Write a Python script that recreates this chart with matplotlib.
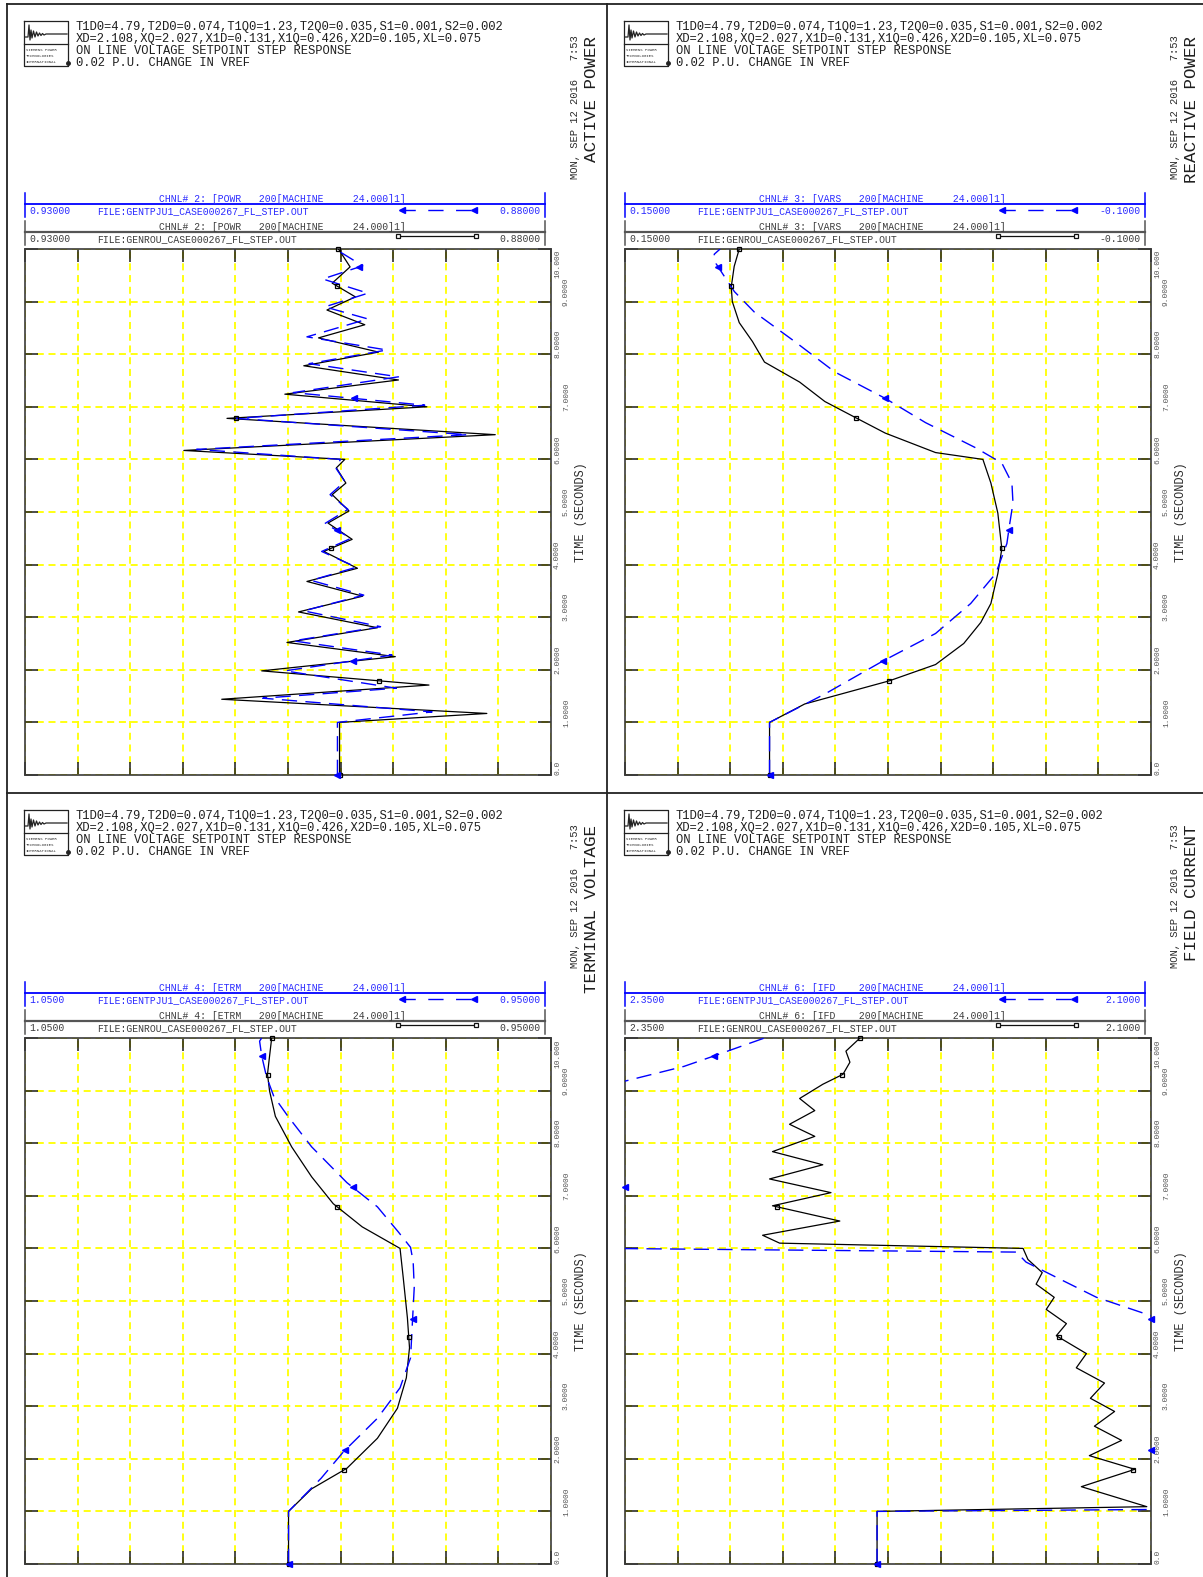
import numpy as np
import matplotlib
matplotlib.use('Agg')
import matplotlib.pyplot as plt
from matplotlib.lines import Line2D
from matplotlib.transforms import blended_transform_factory

W, H = 1203, 1577
MONO = ['Liberation Mono', 'DejaVu Sans Mono']

# ---------------------------------------------------------------- text
header_lines = ['T1D0=4.79,T2D0=0.074,T1Q0=1.23,T2Q0=0.035,S1=0.001,S2=0.002',
                'XD=2.108,XQ=2.027,X1D=0.131,X1Q=0.426,X2D=0.105,XL=0.075',
                'ON LINE VOLTAGE SETPOINT STEP RESPONSE',
                '0.02 P.U. CHANGE IN VREF']
stamp = 'MON, SEP 12 2016   7:53'
titles = ['ACTIVE POWER', 'REACTIVE POWER', 'TERMINAL VOLTAGE', 'FIELD CURRENT']
chnl_labels = ['CHNL# 2: [POWR   200[MACHINE     24.000]1]',
               'CHNL# 3: [VARS   200[MACHINE     24.000]1]',
               'CHNL# 4: [ETRM   200[MACHINE     24.000]1]',
               'CHNL# 6: [IFD    200[MACHINE     24.000]1]']
left_labels = ['0.93000', '0.15000', '1.0500', '2.3500']
right_labels = ['0.88000', '-0.1000', '0.95000', '2.1000']
x_left = [0.93, 0.15, 1.05, 2.35]
x_right = [0.88, -0.10, 0.95, 2.10]
file_blue = 'FILE:GENTPJU1_CASE000267_FL_STEP.OUT'
file_black = 'FILE:GENROU_CASE000267_FL_STEP.OUT'
time_ticks = list(range(11))
time_labels = ['0.0', '1.0000', '2.0000', '3.0000', '4.0000', '5.0000',
               '6.0000', '7.0000', '8.0000', '9.0000', '10.000']
square_times = [0.0, 1.79, 4.31, 6.79, 9.3, 10.0]
arrow_times = [0.0, 2.17, 4.65, 7.16, 9.66]

# ---------------------------------------------------------------- data
# active power
p_t_genrou = [0, 1.0, 1.17, 1.44, 1.71, 1.98, 2.25, 2.52, 2.80, 3.10, 3.40, 3.68, 3.93,
              4.25, 4.48, 4.79, 5.02, 5.33, 5.55, 5.84, 6.0, 6.17, 6.47, 6.78, 7.0,
              7.24, 7.51, 7.78, 8.04, 8.31, 8.56, 8.84, 9.09, 9.35, 9.66, 10.0]
p_v_genrou = [0.9001, 0.9001, 0.8861, 0.9113, 0.8916, 0.9075, 0.8948, 0.9051, 0.8965,
              0.9040, 0.8979, 0.9032, 0.8984, 0.9016, 0.8989, 0.9012, 0.8992, 0.9008,
              0.8995, 0.9004, 0.8996, 0.9149, 0.8853, 0.9108, 0.8918, 0.9053, 0.8945,
              0.9035, 0.8964, 0.9021, 0.8977, 0.9013, 0.8986, 0.9008, 0.8991, 0.9002]
p_t_gentpj = [0, 1.0, 1.2, 1.46, 1.65, 1.98, 2.28, 2.55, 2.82, 3.12, 3.42, 3.70, 3.95,
              4.25, 4.50, 4.78, 5.05, 5.33, 5.58, 5.85, 6.0, 6.19, 6.47, 6.78, 7.03,
              7.27, 7.57, 7.82, 8.08, 8.33, 8.67, 8.90, 9.16, 9.43, 9.68, 10.0]
p_v_gentpj = [0.9003, 0.9003, 0.8913, 0.9074, 0.8947, 0.9053, 0.8951, 0.9045, 0.8962,
              0.9035, 0.8978, 0.9028, 0.8985, 0.9018, 0.8990, 0.9015, 0.8993, 0.9010,
              0.8996, 0.9005, 0.9000, 0.9137, 0.8879, 0.9099, 0.8920, 0.9045, 0.8945,
              0.9030, 0.8956, 0.9032, 0.8974, 0.9015, 0.8974, 0.9017, 0.8979, 0.9005]

# reactive power
q_t_genrou = [0, 1.0, 1.35, 1.79, 2.1, 2.5, 2.9, 3.26, 3.83, 4.3, 4.98, 5.55, 6.0,
              6.13, 6.5, 6.8, 7.1, 7.47, 7.85, 8.24, 8.6, 9.0, 9.28, 9.67, 10.0]
q_v_genrou = [0.0813, 0.0813, 0.0646, 0.0244, 0.0024, -0.0110, -0.0191, -0.0239,
              -0.0272, -0.0291, -0.0272, -0.0239, -0.0201, 0.0024, 0.0263, 0.0407,
              0.0550, 0.0670, 0.0837, 0.0894, 0.0957, 0.0990, 0.0995, 0.0981, 0.0957]
q_t_gentpj = [0, 1.0, 1.54, 2.17, 2.69, 3.26, 3.83, 4.4, 4.79, 5.17, 5.55, 5.93, 6.22,
              6.7, 7.16, 7.66, 8.24, 8.8, 9.19, 9.48, 9.72, 9.9, 10.0]
q_v_gentpj = [0.0813, 0.0813, 0.0550, 0.0273, 0.0024, -0.0143, -0.0262, -0.0315,
              -0.0329, -0.0344, -0.0339, -0.0291, -0.0167, 0.0072, 0.0263, 0.0502,
              0.0693, 0.0885, 0.0980, 0.1028, 0.1067, 0.1076, 0.1048]

# terminal voltage
v_t_genrou = [0, 1.0, 1.43, 1.82, 2.39, 2.96, 3.54, 4.11, 4.68, 5.45, 6.0, 6.41, 6.85,
              7.36, 7.93, 8.51, 8.99, 9.31, 9.66, 10.0]
v_v_genrou = [0.9999, 0.9999, 0.9955, 0.9888, 0.9830, 0.9792, 0.9775, 0.9769, 0.9773,
              0.9781, 0.9787, 0.9859, 0.9914, 0.9955, 0.9993, 1.0024, 1.0035, 1.0039,
              1.0035, 1.0031]
v_t_gentpj = [0, 1.0, 1.63, 2.14, 2.77, 3.35, 3.92, 4.49, 5.26, 5.74, 6.02, 6.31, 6.79,
              7.25, 7.93, 8.51, 8.89, 9.27, 9.66, 9.94, 10.0]
v_v_gentpj = [0.9999, 0.9999, 0.9937, 0.9894, 0.9830, 0.9787, 0.9767, 0.9764, 0.9760,
              0.9762, 0.9767, 0.9790, 0.9830, 0.9888, 0.9955, 1.0000, 1.0027, 1.0041,
              1.0050, 1.0054, 1.0050]

# field current
i_t_genrou = [0, 1.0, 1.09, 1.47, 1.8, 2.06, 2.35, 2.62, 2.9, 3.15, 3.44, 3.73, 4.0,
              4.34, 4.57, 4.84, 5.07, 5.32, 5.54, 5.79, 6.0, 6.1, 6.25, 6.52, 6.81,
              7.06, 7.32, 7.59, 7.84, 8.13, 8.36, 8.62, 8.85, 9.12, 9.31, 9.54, 9.75, 10.0]
i_v_genrou = [2.2302, 2.2302, 2.1020, 2.1331, 2.1077, 2.1293, 2.1140, 2.1269, 2.1173,
              2.1288, 2.1221, 2.1355, 2.1307, 2.1450, 2.1402, 2.1498, 2.1460, 2.1546,
              2.1517, 2.1585, 2.1608, 2.2765, 2.2846, 2.2479, 2.2799, 2.2521, 2.2813,
              2.2560, 2.2799, 2.2598, 2.2718, 2.2598, 2.2670, 2.2560, 2.2464, 2.2431,
              2.2450, 2.2383]
i_t_gentpj = [0, 1.0, 1.05, 2.0, 3.0, 4.0, 4.72, 5.07, 5.45, 5.74, 5.93, 6.05, 7.0,
              8.0, 9.0, 9.18, 9.46, 9.66, 10.0]
i_v_gentpj = [2.2302, 2.2302, 2.05, 2.04, 2.05, 2.07, 2.10, 2.1259, 2.1450, 2.1594,
              2.1640, 2.50, 2.55, 2.50, 2.40, 2.35, 2.3220, 2.3076, 2.2837]

series = [((p_t_gentpj, p_v_gentpj), (p_t_genrou, p_v_genrou)),
          ((q_t_gentpj, q_v_gentpj), (q_t_genrou, q_v_genrou)),
          ((v_t_gentpj, v_v_gentpj), (v_t_genrou, v_v_genrou)),
          ((i_t_gentpj, i_v_gentpj), (i_t_genrou, i_v_genrou))]
offsets = [(0, 0), (600, 0), (0, 789), (600, 789)]

BLUE = '#0000ff'
BLUE_TXT = '#2a2aff'
GRAY_TXT = '#3c3c3c'

fig = plt.figure(figsize=(W / 100, H / 100), dpi=100)


def fline(xs, ys, **kw):
    fig.add_artist(Line2D([x / W for x in xs], [1 - y / H for y in ys],
                          transform=fig.transFigure, **kw))


def ftext(x, y, s, **kw):
    kw.setdefault('family', MONO)
    fig.text(x / W, 1 - y / H, s, **kw)


def draw_logo(dx, dy):
    fline([24 + dx, 68 + dx, 68 + dx, 24 + dx, 24 + dx], [21 + dy, 21 + dy, 66 + dy, 66 + dy, 21 + dy],
          color='#222222', lw=0.9)
    fline([24 + dx, 68 + dx], [44 + dy, 44 + dy], color='#222222', lw=0.9)
    sx = [25, 28, 29, 30, 31, 32, 33.5, 35, 36.5, 38, 39.5, 41, 42.5, 44, 46, 67]
    sy = [37, 37, 25, 40, 30, 38, 31, 37, 32, 36, 33, 35.5, 33.5, 35, 34, 34]
    fline([x + dx for x in sx], [y + dy for y in sy], color='#222222', lw=0.9)
    for k, s in enumerate(['SIEMENS POWER', 'TECHNOLOGIES', 'INTERNATIONAL']):
        ftext(26 + dx, 50 + 6 * k + dy, s, fontsize=2.8, color='#333333', va='center')
    fline([68 + dx], [63 + dy], marker='o', ms=2.5, color='#222222')


def draw_panel(k):
    dx, dy = offsets[k]
    L, R = x_left[k], x_right[k]
    (bt, bv), (kt, kv) = series[k]

    # header
    draw_logo(dx, dy)
    for j, s in enumerate(header_lines):
        ftext(76 + dx, 27 + 12 * j + dy, s, fontsize=8.7, color='#1e1e1e', va='center')
    ftext(575 + dx, 35 + dy, stamp, fontsize=7.6, rotation=90, va='top', ha='center',
          color='#2a2a2a')
    ftext(592 + dx, 36 + dy, titles[k], fontsize=12.6, rotation=90, va='top', ha='center',
          color='#1e1e1e')

    # legend boxes
    for yy, col, tcol, fname, lw in [(204, BLUE, BLUE_TXT, file_blue, 1.3),
                                     (232, '#555555', GRAY_TXT, file_black, 1.6)]:
        fline([25 + dx, 25 + dx], [yy - 11 + dy, yy + 13 + dy], color=col, lw=1.1)
        fline([545 + dx, 545 + dx], [yy - 11 + dy, yy + 13 + dy], color=col, lw=1.1)
        fline([25 + dx, 545 + dx], [yy + dy, yy + dy], color=col, lw=lw)
        ftext(282 + dx, yy - 5 + dy, chnl_labels[k], fontsize=7.0, color=tcol,
              ha='center', va='center')
        ftext(29 + dx, yy + 7 + dy, left_labels[k], fontsize=7.0, color=tcol, va='center')
        ftext(97 + dx, yy + 7 + dy, fname, fontsize=7.0, color=tcol, va='center')
        ftext(541 + dx, yy + 7 + dy, right_labels[k], fontsize=7.0, color=tcol,
              va='center', ha='right')
    fline([400 + dx, 475 + dx], [210 + dy, 210 + dy], color=BLUE, lw=1.0,
          ls=(0, (11, 9)))
    fline([402 + dx, 474 + dx], [210 + dy, 210 + dy], color=BLUE, lw=0, marker='<',
          ms=4.5, mfc=BLUE, mec=BLUE)
    fline([398 + dx, 476 + dx], [236 + dy, 236 + dy], color='#111111', lw=0.9,
          marker='s', ms=3.5, mfc='white', mec='#111111', mew=0.9)

    # plot area
    ax = fig.add_axes([(25 + dx) / W, 1 - (775 + dy) / H, 526 / W, 526 / H])
    ax.set_xlim(L, R)
    ax.set_ylim(0, 10)
    ax.set_xticks(np.linspace(L, R, 11))
    ax.set_yticks(time_ticks)
    ax.grid(True, color='#ffff00', lw=1.3, ls=(0, (3.9, 2.6)))
    ax.set_axisbelow(True)
    ax.tick_params(direction='in', length=9.5, width=1.1, color='#1a1a1a',
                   top=True, right=True, labelleft=False, labelbottom=False)
    for sp in ax.spines.values():
        sp.set_color('#3a3a3a')
        sp.set_linewidth(1.2)

    ax.plot(kv, kt, color='black', lw=0.9, zorder=3)
    ax.plot(bv, bt, color=BLUE, lw=1.0, ls=(0, (11, 6)), zorder=4)
    lo, hi = min(L, R), max(L, R)
    sq_v = np.clip(np.interp(square_times, kt, kv), lo, hi)
    ax.plot(sq_v, square_times, ls='none', marker='s', ms=3.5, mfc='none',
            mec='black', mew=0.9, zorder=5, clip_on=False)
    ar_v = np.clip(np.interp(arrow_times, bt, bv), lo, hi)
    ax.plot(ar_v, arrow_times, ls='none', marker='<', ms=4, color=BLUE, zorder=6,
            clip_on=False)

    # time labels, staggered in two columns as on the plotter output
    tr = blended_transform_factory(ax.transAxes, ax.transData)
    px = 1 / 52.6
    for t, lab in zip(time_ticks, time_labels):
        xcol = 1 + (3 if t % 2 == 0 else 12) / 526
        if t == 10:
            ax.text(xcol, 10 - 1 * px, lab, transform=tr, rotation=90, fontsize=5.7,
                    family=MONO, color='#555555', ha='left', va='top')
        elif t == 0:
            ax.text(xcol, 0, lab, transform=tr, rotation=90, fontsize=5.7,
                    family=MONO, color='#555555', ha='left', va='bottom')
        else:
            ax.text(xcol, t + 10 * px, lab, transform=tr, rotation=90, fontsize=5.7,
                    family=MONO, color='#555555', ha='left', va='center')
    ftext(581 + dx, 512 + dy, 'TIME (SECONDS)', fontsize=8.6, rotation=90,
          ha='center', va='center', color='#2a2a2a')


for k in range(4):
    draw_panel(k)

# outer frame
fline([7, W], [4, 4], color='#222222', lw=1.3)
fline([7, 7], [4, H], color='#222222', lw=1.3)
fline([607, 607], [4, H], color='#222222', lw=1.3)
fline([7, W], [793, 793], color='#222222', lw=1.3)

fig.savefig('out.png', dpi=100)
